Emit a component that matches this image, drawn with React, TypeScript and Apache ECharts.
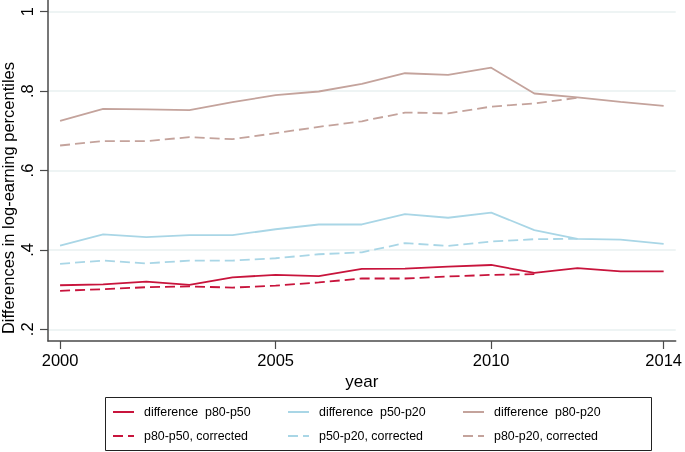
import React, { useEffect, useRef } from "react";
import * as echarts from "echarts";

const years = [2000, 2001, 2002, 2003, 2004, 2005, 2006, 2007, 2008, 2009, 2010, 2011, 2012, 2013, 2014];
const xTicks = [2000, 2005, 2010, 2014];
const yTicks = [0.2, 0.4, 0.6, 0.8, 1];

const diff8050 = [0.311, 0.313, 0.320, 0.312, 0.331, 0.337, 0.334, 0.352, 0.353, 0.358, 0.362, 0.342, 0.354, 0.346, 0.346];
const corr8050 = [0.297, 0.301, 0.306, 0.308, 0.305, 0.310, 0.318, 0.328, 0.328, 0.333, 0.337, 0.339];
const diff5020 = [0.411, 0.439, 0.432, 0.437, 0.437, 0.452, 0.464, 0.464, 0.490, 0.481, 0.494, 0.450, 0.428, 0.426, 0.415];
const corr5020 = [0.365, 0.373, 0.366, 0.373, 0.373, 0.379, 0.389, 0.394, 0.417, 0.410, 0.421, 0.427, 0.428];
const diff8020 = [0.725, 0.755, 0.754, 0.752, 0.772, 0.790, 0.799, 0.818, 0.845, 0.841, 0.859, 0.794, 0.784, 0.773, 0.763];
const corr8020 = [0.663, 0.674, 0.674, 0.684, 0.679, 0.694, 0.710, 0.724, 0.746, 0.744, 0.761, 0.769, 0.783];

const names = {
  d8050: "difference  p80-p50",
  c8050: "p80-p50, corrected",
  d5020: "difference  p50-p20",
  c5020: "p50-p20, corrected",
  d8020: "difference  p80-p20",
  c8020: "p80-p20, corrected",
};

const RED = "#c8143c";
const BLUE = "#a9d6e6";
const BROWN = "#c4a39c";
const AXIS = "#4a4a4a";
const FONT = "Liberation Sans, Arial, Helvetica, sans-serif";
const SOLID_ICON = "path://M0,0H21V2H0Z";
const DASH_ICON = "path://M0,0H10V2H0Z M15,0H21V2H15Z";

function pairs(vals: number[]) {
  return vals.map((v, i) => [years[i], v]);
}

export default function App() {
  const ref = useRef<HTMLDivElement>(null);
  useEffect(() => {
    if (!ref.current) return;
    const chart = echarts.init(ref.current, undefined, { renderer: "svg" });
    const line = (name: string, vals: number[], color: string, dashed: boolean) => ({
      name,
      type: "line",
      data: pairs(vals),
      symbol: "none",
      lineStyle: { color, width: 1.8, type: dashed ? [10, 5] : "solid" },
      itemStyle: { color },
      emphasis: { disabled: true },
    });
    const legendBase = (left: number, solid: string, dashed: string) => ({
      orient: "vertical",
      left,
      top: 405,
      padding: 0,
      itemWidth: 21,
      itemHeight: 2,
      itemGap: 10,
      data: [
        { name: solid, icon: SOLID_ICON },
        { name: dashed, icon: DASH_ICON },
      ],
      textStyle: { fontFamily: FONT, fontSize: 12.4, color: "#000", padding: [0, 0, 0, 5], lineHeight: 14 },
      selectedMode: false,
    });
    chart.setOption({
      animation: false,
      textStyle: { fontFamily: FONT },
      grid: { left: 48, right: 8, top: 0, bottom: 111, containLabel: false },
      xAxis: {
        type: "value",
        min: 1999.72,
        max: 2014.28,
        name: "year",
        nameLocation: "middle",
        nameGap: 29,
        nameTextStyle: { fontFamily: FONT, fontSize: 17, color: "#000" },
        axisLine: { show: true, lineStyle: { color: AXIS, width: 1.5 } },
        axisTick: { show: true, length: 8, customValues: xTicks, lineStyle: { color: AXIS, width: 1.2 } },
        axisLabel: { customValues: xTicks, fontFamily: FONT, fontSize: 16.5, color: "#000", margin: 10, formatter: (v: number) => String(v) },
        splitLine: { show: false },
      },
      yAxis: {
        type: "value",
        min: 0.1705,
        max: 1.0295,
        axisLine: { show: true, lineStyle: { color: AXIS, width: 1.5 } },
        axisTick: { show: true, length: 8, customValues: yTicks, lineStyle: { color: AXIS, width: 1.2 } },
        axisLabel: {
          customValues: yTicks,
          rotate: 90,
          fontFamily: FONT,
          fontSize: 16.5,
          color: "#000",
          margin: 13,
          formatter: (v: number) => (Math.abs(v - 1) < 1e-9 ? "1" : v.toFixed(1).replace(/^0/, "")),
        },
        splitLine: { show: true, lineStyle: { color: "#e8f0f1", width: 1.5 } },
      },
      legend: [
        legendBase(113, names.d8050, names.c8050),
        legendBase(288, names.d5020, names.c5020),
        legendBase(463, names.d8020, names.c8020),
      ],
      graphic: [
        {
          type: "rect",
          shape: { x: 105.5, y: 397.5, width: 546, height: 53 },
          style: { fill: "none", stroke: "#222", lineWidth: 1 },
          silent: true,
        },
        {
          type: "text",
          x: 8,
          y: 198,
          rotation: Math.PI / 2,
          style: {
            text: "Differences in log-earning percentiles",
            fontFamily: FONT,
            fontSize: 16.5,
            fill: "#000",
            textAlign: "center",
            textVerticalAlign: "middle",
          },
          silent: true,
        },
      ],
      series: [
        line(names.d8050, diff8050, RED, false),
        line(names.c8050, corr8050, RED, true),
        line(names.d5020, diff5020, BLUE, false),
        line(names.c5020, corr5020, BLUE, true),
        line(names.d8020, diff8020, BROWN, false),
        line(names.c8020, corr8020, BROWN, true),
      ],
    });
    return () => chart.dispose();
  }, []);
  return <div ref={ref} style={{ position: "fixed", left: 0, top: 0, width: 685, height: 452 }} />;
}
